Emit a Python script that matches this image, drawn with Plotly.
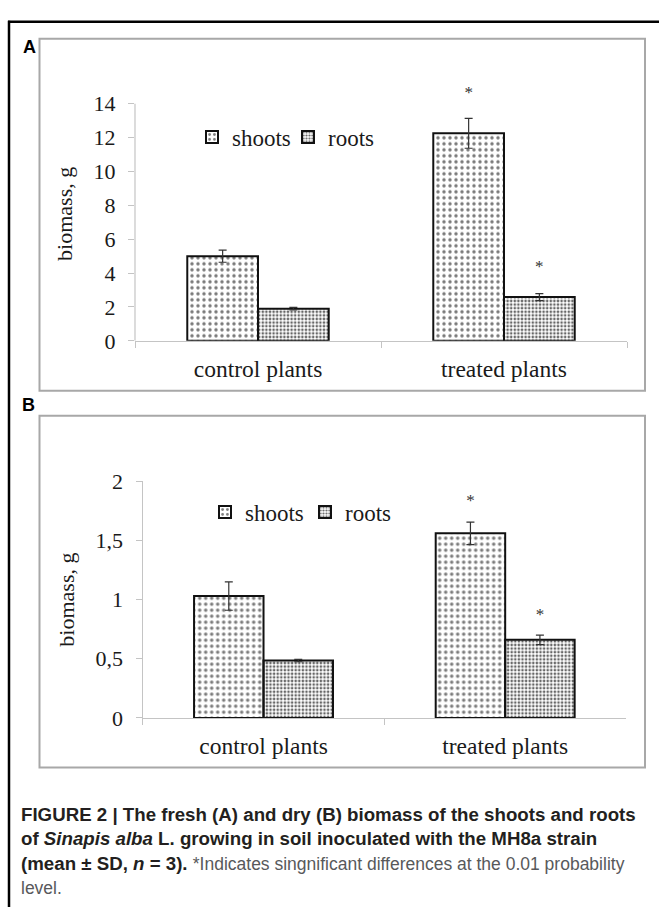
import plotly.graph_objects as go

# ---------------- data ----------------
categories = ["control plants", "treated plants"]

fresh_shoots = [5.0, 12.25]
fresh_shoots_sd = [0.36, 0.88]
fresh_roots = [1.9, 2.58]
fresh_roots_sd = [0.07, 0.21]
fresh_star_shoots = [None, 14.6]
fresh_star_roots = [None, 4.3]

dry_shoots = [1.03, 1.56]
dry_shoots_sd = [0.12, 0.095]
dry_roots = [0.485, 0.66]
dry_roots_sd = [0.01, 0.04]
dry_star_shoots = [None, 1.83]
dry_star_roots = [None, 0.86]

series_names = ["shoots", "roots"]
y_ticks_a = [0, 2, 4, 6, 8, 10, 12, 14]
y_axis_max_a = 14
y_ticks_b = [0, 0.5, 1, 1.5, 2]
y_ticktext_b = ["0", "0,5", "1", "1,5", "2"]

# ---------------- styling ----------------
W, H = 659, 920
SERIF = "Liberation Serif"
SANS = "Liberation Sans"
TXT = "#1a1a1a"
AXC = "#c4c4c4"


def fx(p):
    return p / W


def fy(p):
    return 1 - p / H


shoot_marker = dict(
    color="#e6e6e6",
    line=dict(color="#111111", width=2),
    pattern=dict(shape=".", size=6, solidity=0.26, fgcolor="#7a7a7a", fillmode="replace"),
)
root_marker = dict(
    color="#d6d6d6",
    line=dict(color="#111111", width=2),
    pattern=dict(shape=".", size=3.6, solidity=0.42, fgcolor="#666666", fillmode="replace"),
)
err_style = dict(type="data", color="#333333", thickness=1.2, width=4, visible=True)
star_font = dict(family=SERIF, size=17, color="#333333")

fig = go.Figure()

panels = [
    ("x", "y", "legend", fresh_shoots, fresh_shoots_sd, fresh_roots, fresh_roots_sd,
     fresh_star_shoots, fresh_star_roots),
    ("x2", "y2", "legend2", dry_shoots, dry_shoots_sd, dry_roots, dry_roots_sd,
     dry_star_shoots, dry_star_roots),
]

for xa, ya, lg, sv, ssd, rv, rsd, st_s, st_r in panels:
    fig.add_trace(go.Bar(
        x=categories, y=sv, name=series_names[0], xaxis=xa, yaxis=ya, legend=lg,
        marker=shoot_marker, error_y=dict(array=ssd, **err_style),
        offsetgroup="s", showlegend=True,
    ))
    fig.add_trace(go.Bar(
        x=categories, y=rv, name=series_names[1], xaxis=xa, yaxis=ya, legend=lg,
        marker=root_marker, error_y=dict(array=rsd, **err_style),
        offsetgroup="r", showlegend=True,
    ))
    fig.add_trace(go.Scatter(
        x=categories, y=st_s, mode="text", text=["*", "*"], xaxis=xa, yaxis=ya,
        textfont=star_font, offsetgroup="s", cliponaxis=False,
        showlegend=False, hoverinfo="skip",
    ))
    fig.add_trace(go.Scatter(
        x=categories, y=st_r, mode="text", text=["*", "*"], xaxis=xa, yaxis=ya,
        textfont=star_font, offsetgroup="r", cliponaxis=False,
        showlegend=False, hoverinfo="skip",
    ))

common_x = dict(
    type="category", showline=True, linecolor=AXC, linewidth=1.2,
    ticks="outside", tickson="boundaries", ticklen=6, tickcolor=AXC,
    showgrid=False, zeroline=False,
    tickfont=dict(family=SERIF, size=23.5, color=TXT), ticklabelstandoff=7,
)
common_y = dict(
    ticks="outside", ticklen=6, tickcolor=AXC, showgrid=False, zeroline=False,
    tickfont=dict(family=SERIF, size=22, color=TXT), ticklabelstandoff=8,
    title=dict(text="biomass, g", font=dict(family=SERIF, size=22, color=TXT), standoff=14),
)

# panel A: 0 at y=338 px, 14 at y=94.3 px; headroom above 14 for the asterisk
a_px_per_unit = (338 - 94.3) / 14
a_range_top = 15
fig.update_layout(
    width=W, height=H, margin=dict(l=0, r=0, t=0, b=0),
    paper_bgcolor="white", plot_bgcolor="white",
    barmode="group", bargap=0.425, bargroupgap=0,
    scattermode="group", scattergap=0.425,
    showlegend=True, hovermode=False,
    xaxis=dict(domain=[fx(135), fx(627)], anchor="y", **common_x),
    yaxis=dict(domain=[fy(338), fy(338 - a_range_top * a_px_per_unit)], anchor="x",
               range=[0, a_range_top], tickvals=y_ticks_a, showline=False, **common_y),
    xaxis2=dict(domain=[fx(142.7), fx(626)], anchor="y2", **common_x),
    yaxis2=dict(domain=[fy(725.7), fy(482.3)], anchor="x2", range=[0, 2],
                tickvals=y_ticks_b, ticktext=y_ticktext_b,
                showline=True, linecolor=AXC, linewidth=1.2, **common_y),
    legend=dict(orientation="h", x=fx(192), y=fy(128.5), xanchor="left", yanchor="middle",
                bgcolor="rgba(0,0,0,0)", font=dict(family=SERIF, size=23, color=TXT),
                entrywidth=51, entrywidthmode="pixels", traceorder="normal"),
    legend2=dict(orientation="h", x=fx(205), y=fy(514), xanchor="left", yanchor="middle",
                 bgcolor="rgba(0,0,0,0)", font=dict(family=SERIF, size=23, color=TXT),
                 entrywidth=55, entrywidthmode="pixels", traceorder="normal"),
)

shapes = [
    # y-axis line of panel A (runs only up to the top tick)
    dict(type="line", xref="x domain", yref="y", x0=0, x1=0, y0=0, y1=y_axis_max_a,
         line=dict(color=AXC, width=1.2)),
    # panel frames
    dict(type="rect", xref="paper", yref="paper", x0=fx(39.5), x1=fx(645), y0=fy(389.3), y1=fy(27.5),
         line=dict(color="#a8a8a8", width=2)),
    dict(type="rect", xref="paper", yref="paper", x0=fx(39.5), x1=fx(645), y0=fy(776.7), y1=fy(415),
         line=dict(color="#a8a8a8", width=2)),
    # outer black frame (top and left)
    dict(type="line", xref="paper", yref="paper", x0=fx(8), x1=1, y0=fy(10), y1=fy(10),
         line=dict(color="black", width=2.5)),
    dict(type="line", xref="paper", yref="paper", x0=fx(9), x1=fx(9), y0=fy(9), y1=0,
         line=dict(color="black", width=2.5)),
]
fig.update_layout(shapes=shapes)

annotations = [
    dict(text="<b>A</b>", x=fx(21), y=fy(36), xanchor="left", yanchor="middle",
         font=dict(family=SANS, size=18, color="black")),
    dict(text="<b>B</b>", x=fx(20), y=fy(404), xanchor="left", yanchor="middle",
         font=dict(family=SANS, size=18, color="black")),
]
GRAY = "color:#58595b;font-size:17.5px"
cap_lines = [
    "<b>FIGURE 2 | The fresh (A) and dry (B) biomass of the shoots and roots</b>",
    "<b>of <i>Sinapis alba</i> L. growing in soil inoculated with the MH8a strain</b>",
    f"<b>(mean ± SD, <i>n</i> = 3).</b> <span style='{GRAY}'>*Indicates singnificant differences at the 0.01 probability</span>",
    f"<span style='{GRAY}'>level.</span>",
]
cap_y = [825, 850, 875, 900]
for t, yy in zip(cap_lines, cap_y):
    annotations.append(dict(text=t, x=fx(19), y=fy(yy), xanchor="left", yanchor="middle",
                            font=dict(family=SANS, size=18.7, color="#231f20"), align="left"))
for a in annotations:
    a.update(xref="paper", yref="paper", showarrow=False)
fig.update_layout(annotations=annotations)

fig.write_html(
    "out.html",
    config={"displayModeBar": False, "staticPlot": True},
    post_script="document.body.style.margin='0';document.body.style.overflow='hidden';",
)
